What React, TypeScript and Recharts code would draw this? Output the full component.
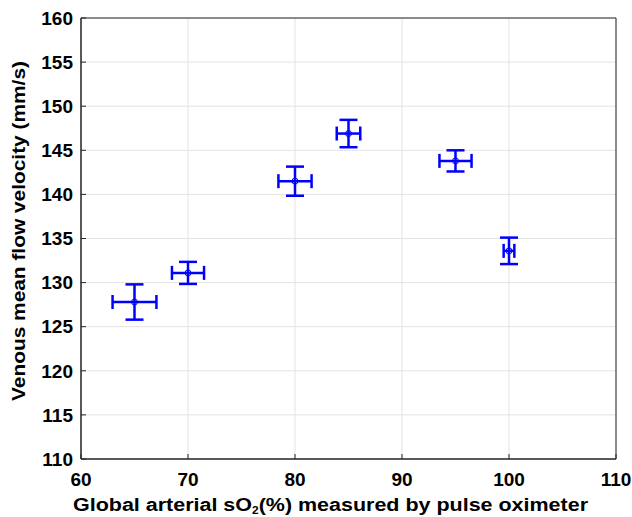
import React from "react";
import { ScatterChart, Scatter, XAxis, YAxis, CartesianGrid, ErrorBar, ReferenceArea } from "recharts";

const saturation = [65, 70, 80, 85, 95, 100];
const velocity = [127.8, 131.1, 141.5, 146.9, 143.8, 133.6];
const saturationErr = [2.05, 1.5, 1.55, 1.1, 1.5, 0.5];
const velocityErr = [2.0, 1.25, 1.65, 1.55, 1.2, 1.5];
const xTicks = [60, 70, 80, 90, 100, 110];
const yTicks = [110, 115, 120, 125, 130, 135, 140, 145, 150, 155, 160];

const data = saturation.map((x, i) => ({ x, y: velocity[i], ex: saturationErr[i], ey: velocityErr[i] }));

const BLUE = "#0000ff";
const FONT = "'Liberation Sans', Arial, sans-serif";

const Marker = (props: any) => {
  const { cx, cy } = props;
  return <circle cx={cx} cy={cy} r={3} fill="none" stroke={BLUE} strokeWidth={1} />;
};

const XLabel = () => {
  return (
    <text x={330.5} y={510.5} textAnchor="middle" fontFamily={FONT} fontWeight="bold" fontSize={18} fill="#000" textLength={515} lengthAdjust="spacingAndGlyphs">
      <tspan>Global arterial sO</tspan>
      <tspan fontSize={10} dy={3}>2</tspan>
      <tspan dy={-3}>(%) measured by pulse oximeter</tspan>
    </text>
  );
};

const YLabel = () => {
  const cy = 231;
  const x = 25;
  return (
    <text x={x} y={cy} transform={`rotate(-90, ${x}, ${cy})`} textAnchor="middle" fontFamily={FONT} fontWeight="bold" fontSize={18} fill="#000" textLength={340} lengthAdjust="spacingAndGlyphs">
      Venous mean flow velocity (mm/s)
    </text>
  );
};

export default function App() {
  return (
    <div style={{ position: "absolute", left: 0, top: 0, width: 632, height: 517, background: "#fff" }}>
      <ScatterChart width={632} height={517} margin={{ top: 18, right: 16, bottom: 0, left: 0 }}>
        <CartesianGrid stroke="#e3e3e3" strokeWidth={1} />
        <XAxis
          type="number"
          dataKey="x"
          domain={[60, 110]}
          ticks={xTicks}
          height={58}
          axisLine={{ stroke: "#262626" }}
          tickLine={{ stroke: "#262626" }}
          tickSize={-5}
          tick={{ fontFamily: FONT, fontWeight: "bold", fontSize: 19, fill: "#000", dy: 17 }}
          label={<XLabel />}
          allowDataOverflow
        />
        <YAxis
          type="number"
          dataKey="y"
          domain={[110, 160]}
          ticks={yTicks}
          width={81}
          axisLine={{ stroke: "#262626" }}
          tickLine={{ stroke: "#262626" }}
          tickSize={-5}
          tick={{ fontFamily: FONT, fontWeight: "bold", fontSize: 19, fill: "#000", dx: -11 }}
          label={<YLabel />}
          allowDataOverflow
        />
        <ReferenceArea x1={60} x2={110} y1={110} y2={160} fill="none" stroke="#262626" strokeWidth={1} ifOverflow="visible" />
        <Scatter data={data} shape={<Marker />} isAnimationActive={false}>
          <ErrorBar dataKey="ex" direction="x" stroke={BLUE} strokeWidth={2.5} width={7} isAnimationActive={false} />
          <ErrorBar dataKey="ey" direction="y" stroke={BLUE} strokeWidth={2.5} width={9} isAnimationActive={false} />
        </Scatter>
      </ScatterChart>
    </div>
  );
}
